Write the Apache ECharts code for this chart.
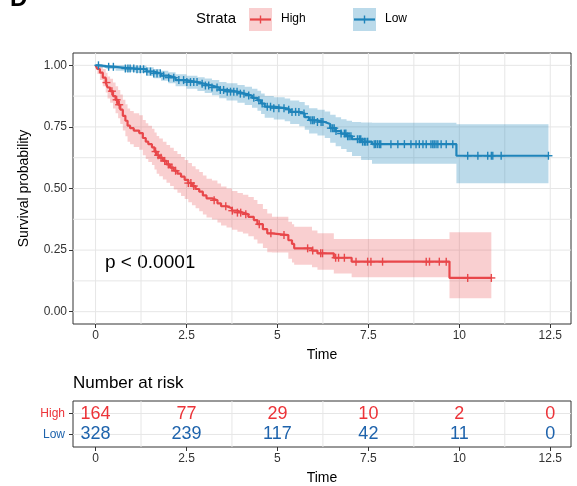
<!DOCTYPE html>
<html><head><meta charset="utf-8">
<script src="https://cdn.jsdelivr.net/npm/echarts@6/dist/echarts.min.js"></script>
<style>html,body{margin:0;padding:0;background:#fff}#c{width:577px;height:486px}</style>
</head><body><div id="c"></div>
<script>
// ---------- data ----------
const highTimes = [0,0.05,0.12,0.2,0.28,0.33,0.4,0.48,0.55,0.62,0.68,0.75,0.82,0.88,0.95,1.05,1.2,1.3,1.38,1.45,1.55,1.62,1.68,1.75,1.85,1.95,2.05,2.15,2.25,2.35,2.45,2.55,2.65,2.75,2.85,2.95,3.05,3.2,3.35,3.45,3.6,3.75,3.9,4.05,4.2,4.35,4.45,4.6,4.72,4.85,5.3,5.4,5.46,5.95,6.1,6.55,7.04,9.73];
const highSurv = [1,0.985,0.97,0.95,0.93,0.91,0.895,0.875,0.86,0.84,0.82,0.795,0.775,0.755,0.745,0.735,0.725,0.705,0.69,0.68,0.667,0.65,0.635,0.625,0.612,0.598,0.585,0.572,0.56,0.548,0.535,0.522,0.51,0.498,0.487,0.472,0.46,0.452,0.44,0.428,0.42,0.41,0.402,0.395,0.385,0.372,0.355,0.335,0.318,0.311,0.29,0.275,0.257,0.248,0.237,0.219,0.203,0.137];
const highUpper = [1,1,0.995,0.985,0.97,0.955,0.945,0.93,0.915,0.9,0.882,0.86,0.842,0.825,0.815,0.805,0.797,0.778,0.765,0.755,0.743,0.727,0.713,0.703,0.69,0.677,0.665,0.652,0.64,0.628,0.616,0.603,0.59,0.578,0.567,0.553,0.54,0.532,0.52,0.508,0.5,0.49,0.482,0.475,0.466,0.453,0.437,0.417,0.399,0.385,0.365,0.355,0.345,0.33,0.318,0.295,0.295,0.322];
const highLower = [1,0.965,0.94,0.915,0.89,0.865,0.848,0.825,0.805,0.785,0.762,0.735,0.712,0.69,0.68,0.668,0.657,0.635,0.62,0.608,0.595,0.577,0.56,0.55,0.537,0.523,0.51,0.496,0.483,0.47,0.457,0.444,0.432,0.42,0.408,0.394,0.382,0.374,0.362,0.35,0.342,0.333,0.324,0.317,0.306,0.293,0.277,0.258,0.241,0.24,0.215,0.2,0.19,0.18,0.17,0.155,0.14,0.055];
const highEnd = 10.88;
const highCensor = [0.3,0.45,0.58,0.65,1.65,1.72,1.8,1.9,2.0,2.1,2.2,2.55,2.62,2.7,3.26,3.58,3.76,3.9,3.99,4.13,4.5,4.82,5.18,5.83,5.97,6.19,6.24,6.6,6.68,6.84,7.16,7.48,7.57,7.89,9.09,9.18,9.45,9.64,10.23,10.88];

const lowTimes = [0,0.1,0.3,0.55,0.8,1.1,1.4,1.6,1.8,2.0,2.2,2.5,2.8,3.0,3.2,3.4,3.6,3.9,4.1,4.3,4.45,4.55,4.65,4.9,5.2,5.35,5.6,5.75,5.87,6.1,6.3,6.45,6.6,6.75,6.9,7.05,7.3,7.6,9.92];
const lowSurv = [1,0.997,0.994,0.99,0.987,0.984,0.975,0.967,0.958,0.95,0.94,0.932,0.925,0.918,0.91,0.9,0.893,0.885,0.877,0.868,0.858,0.845,0.832,0.826,0.82,0.811,0.804,0.79,0.777,0.77,0.762,0.745,0.733,0.723,0.712,0.7,0.69,0.68,0.633];
const lowUpper = [1,1,1,1,0.999,0.998,0.992,0.985,0.978,0.972,0.964,0.958,0.952,0.946,0.94,0.932,0.927,0.92,0.913,0.905,0.897,0.886,0.875,0.87,0.865,0.857,0.851,0.838,0.826,0.82,0.813,0.799,0.789,0.781,0.775,0.77,0.768,0.767,0.761];
const lowLower = [1,0.99,0.985,0.978,0.974,0.969,0.957,0.948,0.937,0.927,0.915,0.905,0.896,0.888,0.878,0.866,0.857,0.848,0.839,0.828,0.816,0.802,0.787,0.78,0.773,0.762,0.753,0.738,0.723,0.715,0.705,0.686,0.672,0.66,0.648,0.632,0.616,0.6,0.521];
const lowEnd = 12.45;
const lowCensor = [0.08,0.36,0.49,0.82,0.89,0.95,1.05,1.14,1.23,1.32,1.41,1.51,1.6,1.69,1.78,1.87,2.01,2.15,2.29,2.42,2.51,2.61,2.7,2.79,2.93,3.02,3.11,3.2,3.34,3.43,3.52,3.62,3.71,3.8,3.89,3.98,4.08,4.21,4.35,4.49,4.58,4.72,4.81,4.9,5.04,5.18,5.31,5.4,5.5,5.59,5.73,5.92,5.97,6.01,6.1,6.2,6.25,6.47,6.52,6.56,6.61,6.75,6.84,6.88,6.93,6.97,7.02,7.2,7.25,7.29,7.34,7.39,7.43,7.48,7.66,7.7,7.75,7.8,7.84,8.12,8.31,8.49,8.67,8.81,8.9,9.0,9.09,9.22,9.27,9.31,9.36,9.41,9.5,9.64,9.82,10.23,10.51,10.78,10.88,10.92,11.15,12.45];

const strata = ['High','Low'];
const riskTimes = [0,2.5,5,7.5,10,12.5];
const riskHigh = [164,77,29,10,2,0];
const riskLow = [328,239,117,42,11,0];
const xTicks = [0,2.5,5,7.5,10,12.5];
const yTicks = [0,0.25,0.5,0.75,1];
const pText = 'p < 0.0001';

// ---------- styling ----------
const RED = '#E8474A', BLUE = '#1F84BA';
const RED_T = '#EC3338', BLUE_T = '#1E63AC';
const RED_F = 'rgba(232,71,74,0.26)', BLUE_F = 'rgba(31,132,186,0.30)';
const FONT = '"Liberation Sans", Arial, sans-serif';
const XMIN = -0.62, XMAX = 13.07, YMIN = -0.05, YMAX = 1.05;
const RYMIN = 0.4, RYMAX = 2.6;

function survAt(times, surv, t) {
  let i = 0;
  while (i + 1 < times.length && times[i + 1] <= t) i++;
  return surv[i];
}
function stepData(times, surv, end) {
  const d = times.map((t, i) => [t, surv[i]]);
  d.push([end, surv[surv.length - 1]]);
  return d;
}
function bandPoints(times, up, lo, end) {
  const pts = [];
  for (let i = 0; i < times.length; i++) {
    const t2 = i + 1 < times.length ? times[i + 1] : end;
    pts.push([times[i], up[i]], [t2, up[i]]);
  }
  for (let i = times.length - 1; i >= 0; i--) {
    const t2 = i + 1 < times.length ? times[i + 1] : end;
    pts.push([t2, lo[i]], [times[i], lo[i]]);
  }
  return pts;
}
function range(a, b, s) { const r = []; for (let v = a; v <= b + 1e-9; v += s) r.push(+v.toFixed(4)); return r; }

function gridSeries(gi, vx, hy, ymin, ymax) {
  const data = vx.map(v => [v, 0]).concat(hy.map(v => [v, 1]));
  return {
    type: 'custom', xAxisIndex: gi, yAxisIndex: gi, silent: true, z: 0, clip: true,
    data: data,
    renderItem: (p, api) => {
      const v = api.value(0), o = api.value(1);
      let a, b;
      if (o === 0) { a = api.coord([v, ymin]); b = api.coord([v, ymax]); }
      else { a = api.coord([XMIN, v]); b = api.coord([XMAX, v]); }
      return { type: 'line', shape: { x1: a[0], y1: a[1], x2: b[0], y2: b[1] },
        style: { stroke: '#E6E6E6', lineWidth: 1 } };
    }
  };
}
function bandSeries(pts, fill) {
  return {
    type: 'custom', xAxisIndex: 0, yAxisIndex: 0, silent: true, z: 2,
    data: [[0, 0]],
    renderItem: (p, api) => ({ type: 'polygon', shape: { points: pts.map(q => api.coord(q)) },
      style: { fill: fill } })
  };
}
function censorSeries(times, surv, cens, color) {
  return {
    type: 'custom', xAxisIndex: 0, yAxisIndex: 0, silent: true, z: 4,
    data: cens.map(t => [t, survAt(times, surv, t)]),
    renderItem: (p, api) => {
      const c = api.coord([api.value(0), api.value(1)]);
      return { type: 'group', children: [
        { type: 'line', shape: { x1: c[0], y1: c[1] - 4, x2: c[0], y2: c[1] + 4 }, style: { stroke: color, lineWidth: 1.4 } },
        { type: 'line', shape: { x1: c[0] - 4, y1: c[1], x2: c[0] + 4, y2: c[1] }, style: { stroke: color, lineWidth: 1.4 } }
      ] };
    }
  };
}
function riskSeries(vals, row, color) {
  return {
    type: 'custom', xAxisIndex: 1, yAxisIndex: 1, silent: true, z: 5,
    data: riskTimes.map((t, i) => [t, row, vals[i]]),
    renderItem: (p, api) => {
      const c = api.coord([api.value(0), api.value(1)]);
      return { type: 'text', x: c[0], y: c[1],
        style: { text: String(api.value(2)), fill: color, font: '18px ' + FONT, align: 'center', verticalAlign: 'middle' } };
    }
  };
}
function lineSeries(times, surv, end, color) {
  return { type: 'line', xAxisIndex: 0, yAxisIndex: 0, step: 'end', showSymbol: false, symbol: 'none',
    data: stepData(times, surv, end), lineStyle: { color: color, width: 2.2 }, z: 3, silent: true };
}
const tickStyle = { lineStyle: { color: '#333', width: 1 }, length: 4 };
function xAxisCfg(gi) {
  return { type: 'value', gridIndex: gi, min: XMIN, max: XMAX, position: 'bottom',
    axisLine: { show: false, onZero: false }, splitLine: { show: false },
    axisTick: Object.assign({ show: true, customValues: xTicks }, tickStyle),
    axisLabel: { customValues: xTicks, color: '#333', fontSize: 12, fontFamily: FONT, margin: 6 },
    name: 'Time', nameLocation: 'middle', nameGap: 24,
    nameTextStyle: { color: '#000', fontSize: 14, fontFamily: FONT } };
}

const chart = echarts.init(document.getElementById('c'), null, { renderer: 'canvas' });
chart.setOption({
  animation: false,
  backgroundColor: '#fff',
  grid: [
    { left: 73, top: 53, width: 498, height: 271, show: true, borderColor: '#333', borderWidth: 1, backgroundColor: '#fff' },
    { left: 73, top: 401, width: 498, height: 48, show: true, borderColor: '#333', borderWidth: 1, backgroundColor: '#fff' }
  ],
  xAxis: [xAxisCfg(0), xAxisCfg(1)],
  yAxis: [
    { type: 'value', gridIndex: 0, min: YMIN, max: YMAX, position: 'left',
      axisLine: { show: false, onZero: false }, splitLine: { show: false },
      axisTick: Object.assign({ show: true, customValues: yTicks }, tickStyle),
      axisLabel: { customValues: yTicks, formatter: v => v.toFixed(2), color: '#333', fontSize: 12, fontFamily: FONT, margin: 6 },
      name: 'Survival probability', nameLocation: 'middle', nameGap: 42, nameRotate: 90,
      nameTextStyle: { color: '#000', fontSize: 14, fontFamily: FONT } },
    { type: 'value', gridIndex: 1, min: RYMIN, max: RYMAX, position: 'left',
      axisLine: { show: false, onZero: false }, splitLine: { show: false },
      axisTick: Object.assign({ show: true, customValues: [1, 2] }, tickStyle),
      axisLabel: { customValues: [1, 2], margin: 8, fontFamily: FONT,
        formatter: v => v === 2 ? '{h|' + strata[0] + '}' : '{l|' + strata[1] + '}',
        rich: { h: { color: RED_T, fontSize: 12, fontFamily: FONT }, l: { color: BLUE_T, fontSize: 12, fontFamily: FONT } } } }
  ],
  series: [
    gridSeries(0, range(0, 12.5, 1.25), range(0, 1, 0.125), YMIN, YMAX),
    gridSeries(1, [1.25, 3.75, 6.25, 8.75, 11.25], [1, 2], RYMIN, RYMAX),
    bandSeries(bandPoints(highTimes, highUpper, highLower, highEnd), RED_F),
    bandSeries(bandPoints(lowTimes, lowUpper, lowLower, lowEnd), BLUE_F),
    lineSeries(highTimes, highSurv, highEnd, RED),
    lineSeries(lowTimes, lowSurv, lowEnd, BLUE),
    censorSeries(highTimes, highSurv, highCensor, RED),
    censorSeries(lowTimes, lowSurv, lowCensor, BLUE),
    riskSeries(riskHigh, 2, RED_T),
    riskSeries(riskLow, 1, BLUE_T)
  ],
  graphic: [
    { type: 'text', x: 10, y: -1, style: { text: 'D', font: 'bold 24px ' + FONT, fill: '#000', verticalAlign: 'middle' } },
    { type: 'text', x: 196, y: 19, style: { text: 'Strata', font: '15px ' + FONT, fill: '#000', verticalAlign: 'middle' } },
    { type: 'rect', shape: { x: 249, y: 8, width: 23, height: 23 }, style: { fill: RED_F } },
    { type: 'line', shape: { x1: 250, y1: 19.5, x2: 271, y2: 19.5 }, style: { stroke: RED, lineWidth: 2.2 } },
    { type: 'line', shape: { x1: 260.5, y1: 15.5, x2: 260.5, y2: 23.5 }, style: { stroke: RED, lineWidth: 1.4 } },
    { type: 'text', x: 281, y: 19, style: { text: strata[0], font: '12px ' + FONT, fill: '#000', verticalAlign: 'middle' } },
    { type: 'rect', shape: { x: 353, y: 8, width: 23, height: 23 }, style: { fill: BLUE_F } },
    { type: 'line', shape: { x1: 354, y1: 19.5, x2: 375, y2: 19.5 }, style: { stroke: BLUE, lineWidth: 2.2 } },
    { type: 'line', shape: { x1: 364.5, y1: 15.5, x2: 364.5, y2: 23.5 }, style: { stroke: BLUE, lineWidth: 1.4 } },
    { type: 'text', x: 385, y: 19, style: { text: strata[1], font: '12px ' + FONT, fill: '#000', verticalAlign: 'middle' } },
    { type: 'text', x: 105, y: 263, style: { text: pText, font: '19px ' + FONT, fill: '#000', verticalAlign: 'middle' } },
    { type: 'text', x: 73, y: 383, style: { text: 'Number at risk', font: '17px ' + FONT, fill: '#000', verticalAlign: 'middle' } }
  ]
});
</script>
</body></html>
